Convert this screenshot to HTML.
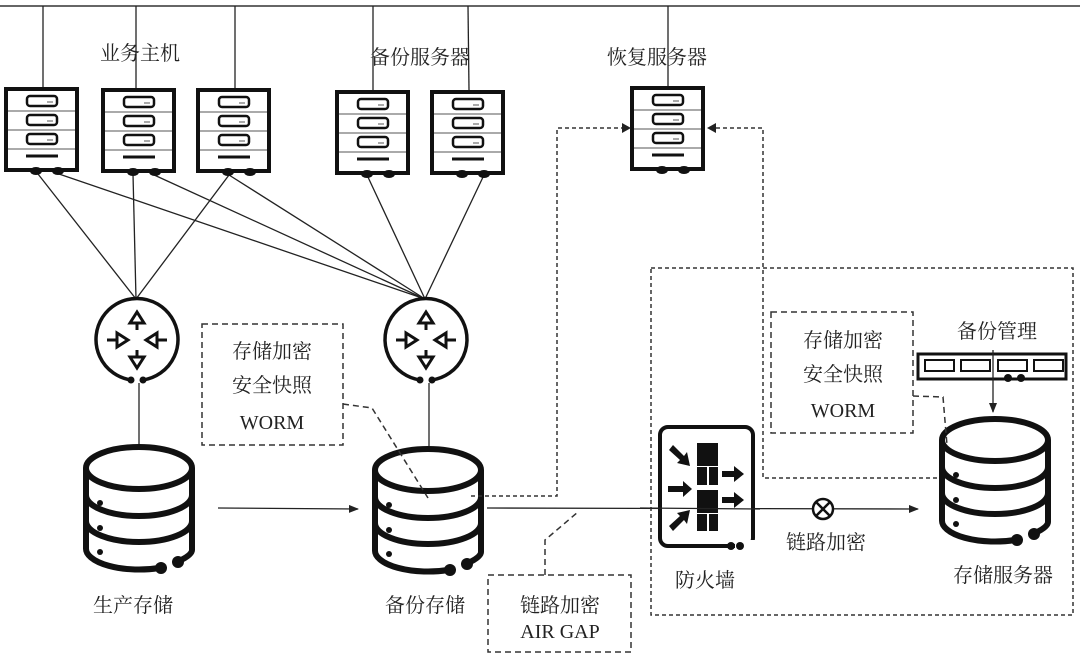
<!DOCTYPE html>
<html><head><meta charset="utf-8"><style>
html,body{margin:0;padding:0;background:#fff;}
svg{display:block;}
text{font-family:"Liberation Serif","Noto Serif CJK SC","Noto Sans CJK SC",serif;font-size:20px;fill:#222;text-anchor:middle;}
</style></head><body>
<svg width="1080" height="659" viewBox="0 0 1080 659" xmlns="http://www.w3.org/2000/svg">
<defs>
<marker id="ah" markerWidth="10" markerHeight="8" refX="9" refY="4" orient="auto" markerUnits="userSpaceOnUse"><path d="M0,0 L10,4 L0,8 Z" fill="#222"/></marker>
<g id="srv">
  <rect x="2" y="2" width="71" height="81" fill="#fff" stroke="#111" stroke-width="4"/>
  <line x1="4" y1="24" x2="71" y2="24" stroke="#555" stroke-width="1"/>
  <line x1="4" y1="43" x2="71" y2="43" stroke="#555" stroke-width="1"/>
  <line x1="4" y1="62" x2="71" y2="62" stroke="#555" stroke-width="1"/>
  <rect x="23" y="9" width="30" height="10" rx="3" fill="none" stroke="#111" stroke-width="2.5"/>
  <rect x="23" y="28" width="30" height="10" rx="3" fill="none" stroke="#111" stroke-width="2.5"/>
  <rect x="23" y="47" width="30" height="10" rx="3" fill="none" stroke="#111" stroke-width="2.5"/>
  <line x1="43" y1="15" x2="49" y2="15" stroke="#555" stroke-width="1"/>
  <line x1="43" y1="34" x2="49" y2="34" stroke="#555" stroke-width="1"/>
  <line x1="43" y1="53" x2="49" y2="53" stroke="#555" stroke-width="1"/>
  <line x1="22" y1="69" x2="54" y2="69" stroke="#111" stroke-width="3"/>
  <ellipse cx="32" cy="84" rx="6" ry="4" fill="#111"/>
  <ellipse cx="54" cy="84" rx="6" ry="4" fill="#111"/>
</g>
<g id="db" fill="none" stroke="#111" stroke-width="6">
  <ellipse cx="58" cy="25" rx="53" ry="21" fill="#fff"/>
  <path d="M5,25 L5,105 A53,21 0 0 0 78,125"/>
  <path d="M111,25 L111,107 Q111,112 98,118"/>
  <path d="M5,52 A53,21 0 0 0 111,52"/>
  <path d="M5,78 A53,21 0 0 0 111,78"/>
  <circle cx="19" cy="60" r="3" fill="#111" stroke="none"/>
  <circle cx="19" cy="85" r="3" fill="#111" stroke="none"/>
  <circle cx="19" cy="109" r="3" fill="#111" stroke="none"/>
  <circle cx="80" cy="125" r="6" fill="#111" stroke="none"/>
  <circle cx="97" cy="119" r="6" fill="#111" stroke="none"/>
</g>
<g id="rt">
  <path d="M-6,40 A41,41 0 1 1 6,40" fill="none" stroke="#111" stroke-width="3.5"/>
  <circle cx="-6" cy="40" r="3.5" fill="#111"/><circle cx="6" cy="40" r="3.5" fill="#111"/>
  <g fill="none" stroke="#111" stroke-width="3">
    <line x1="0" y1="-10" x2="0" y2="-18"/><path d="M-7,-17 L7,-17 L0,-28 Z" fill="#fff"/>
    <line x1="0" y1="10" x2="0" y2="18"/><path d="M-7,17 L7,17 L0,28 Z" fill="#fff"/>
    <line x1="-30" y1="0" x2="-20" y2="0"/><path d="M-20,-7 L-20,7 L-9,0 Z" fill="#fff"/>
    <line x1="30" y1="0" x2="20" y2="0"/><path d="M20,-7 L20,7 L9,0 Z" fill="#fff"/>
  </g>
</g>
</defs>

<line x1="0" y1="6" x2="1080" y2="6" stroke="#333" stroke-width="1.5"/>
<g stroke="#222" stroke-width="1.3">
<line x1="43" y1="6" x2="43" y2="88"/>
<line x1="136" y1="6" x2="136" y2="88"/>
<line x1="235" y1="6" x2="235" y2="88"/>
<line x1="373" y1="6" x2="373" y2="90"/>
<line x1="468" y1="6" x2="469" y2="90"/>
<line x1="668" y1="6" x2="668" y2="86"/>
</g>

<g stroke="#222" stroke-width="1.3">
<line x1="38" y1="174" x2="136" y2="299"/>
<line x1="59" y1="174" x2="425" y2="299"/>
<line x1="133" y1="174" x2="136" y2="299"/>
<line x1="152" y1="174" x2="425" y2="299"/>
<line x1="229" y1="175" x2="136" y2="299"/>
<line x1="229" y1="175" x2="425" y2="299"/>
<line x1="367" y1="175" x2="425" y2="299"/>
<line x1="484" y1="175" x2="425" y2="299"/>
<line x1="139" y1="383" x2="139" y2="445"/>
<line x1="429" y1="383" x2="429" y2="446"/>
</g>

<use href="#srv" x="4" y="87"/>
<use href="#srv" x="101" y="88"/>
<use href="#srv" x="196" y="88"/>
<use href="#srv" x="335" y="90"/>
<use href="#srv" x="430" y="90"/>
<use href="#srv" x="630" y="86"/>

<use href="#rt" x="137" y="340"/>
<use href="#rt" x="426" y="340"/>

<use href="#db" x="81" y="443"/>
<use href="#db" x="370" y="445"/>
<use href="#db" x="937" y="415"/>

<line x1="218" y1="508" x2="358" y2="509" stroke="#222" stroke-width="1.3" marker-end="url(#ah)"/>
<line x1="487" y1="508" x2="918" y2="509" stroke="#222" stroke-width="1.3" marker-end="url(#ah)"/>

<g fill="none" stroke="#333" stroke-width="1.5" stroke-dasharray="4,3">
<polyline points="471,496 557,496 557,128 622,128"/>
<polyline points="937,478 763,478 763,128 712,128"/>
</g>
<path d="M622,123 L631,128 L622,133 Z" fill="#222"/>
<path d="M716,123 L707,128 L716,133 Z" fill="#222"/>

<rect x="651" y="268" width="422" height="347" fill="none" stroke="#333" stroke-width="1.5" stroke-dasharray="4,3"/>

<g fill="none" stroke="#333" stroke-width="1.5" stroke-dasharray="6,4">
<rect x="202" y="324" width="141" height="121"/>
<polyline points="343,404 372,408 428,498"/>
<rect x="771" y="312" width="142" height="121"/>
<polyline points="913,396 943,397 947,445"/>
<rect x="488" y="575" width="143" height="77"/>
<polyline points="545,575 545,540 578,512"/>
</g>

<rect x="660" y="427" width="93" height="119" rx="8" fill="#fff" stroke="#111" stroke-width="4"/>
<rect x="735" y="540" width="20" height="10" fill="#fff"/>
<circle cx="731" cy="546" r="4" fill="#111"/><circle cx="740" cy="546" r="4" fill="#111"/>
<g fill="#111">
<rect x="697" y="443" width="21" height="23"/>
<rect x="697" y="467" width="10" height="18"/><rect x="709" y="467" width="9" height="18"/>
<rect x="697" y="490" width="21" height="23"/>
<rect x="697" y="514" width="10" height="17"/><rect x="709" y="514" width="9" height="17"/>
<path d="M669,450 L673,445 L684,456 L687,452 L690,466 L677,463 L680,460 Z"/>
<path d="M668,486 L683,486 L683,481 L692,489 L683,497 L683,492 L668,492 Z"/>
<path d="M669,526 L673,531 L684,520 L687,524 L690,510 L677,513 L680,516 Z"/>
<path d="M722,471 L734,471 L734,466 L744,474 L734,482 L734,477 L722,477 Z"/>
<path d="M722,497 L734,497 L734,492 L744,500 L734,508 L734,503 L722,503 Z"/>
</g>
<line x1="640" y1="508" x2="760" y2="509" stroke="#222" stroke-width="1.3"/>

<circle cx="823" cy="509" r="10" fill="#fff" stroke="#111" stroke-width="2.5"/>
<line x1="816" y1="502" x2="830" y2="516" stroke="#111" stroke-width="2.5"/>
<line x1="830" y1="502" x2="816" y2="516" stroke="#111" stroke-width="2.5"/>

<rect x="918" y="354" width="148" height="25" fill="#fff" stroke="#111" stroke-width="3"/>
<g fill="none" stroke="#111" stroke-width="2">
<rect x="925" y="360" width="29" height="11"/><rect x="961" y="360" width="29" height="11"/>
<rect x="998" y="360" width="29" height="11"/><rect x="1034" y="360" width="29" height="11"/>
</g>
<circle cx="1008" cy="378" r="4" fill="#111"/><circle cx="1021" cy="378" r="4" fill="#111"/>
<line x1="993" y1="350" x2="993" y2="412" stroke="#222" stroke-width="1.3" marker-end="url(#ah)"/>

<text x="140" y="60">业务主机</text>
<text x="420" y="64">备份服务器</text>
<text x="657" y="64">恢复服务器</text>
<text x="133" y="612">生产存储</text>
<text x="425" y="612">备份存储</text>
<text x="272" y="358">存储加密</text>
<text x="272" y="392">安全快照</text>
<text x="272" y="429">WORM</text>
<text x="843" y="347">存储加密</text>
<text x="843" y="381">安全快照</text>
<text x="843" y="417">WORM</text>
<text x="997" y="338">备份管理</text>
<text x="560" y="612">链路加密</text>
<text x="560" y="638">AIR GAP</text>
<text x="705" y="587">防火墙</text>
<text x="826" y="549">链路加密</text>
<text x="1003" y="582">存储服务器</text>
</svg>
</body></html>
